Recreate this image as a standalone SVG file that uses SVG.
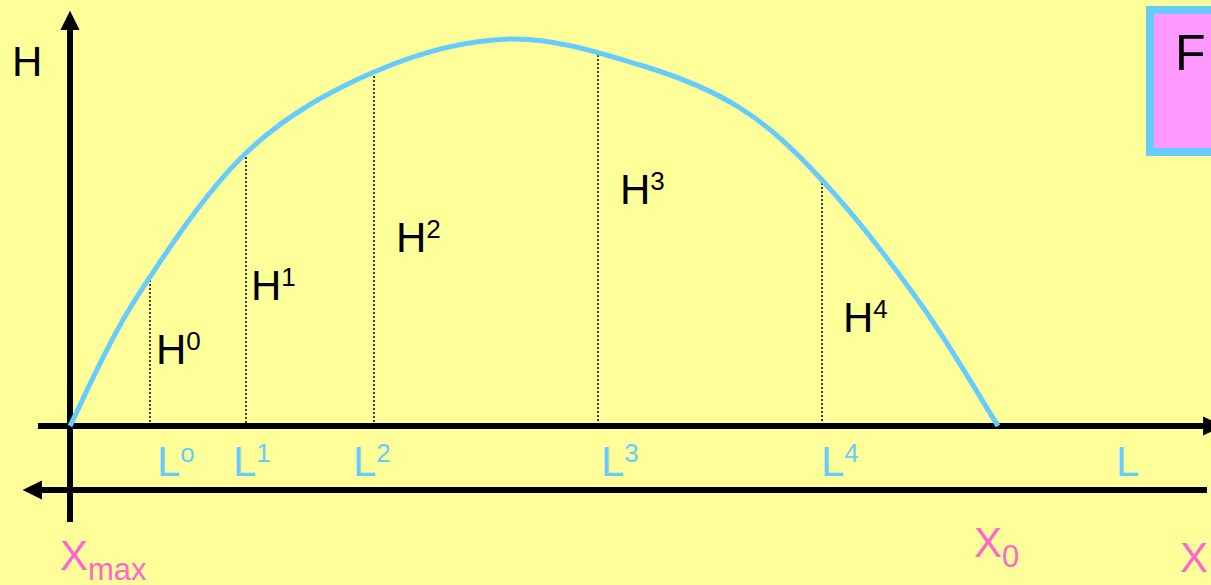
<svg xmlns="http://www.w3.org/2000/svg" width="1211" height="585" viewBox="0 0 1211 585">
<style>
.t{font-family:"Liberation Sans",Arial,sans-serif;}
.blk{fill:#000;font-size:42px;}
.blu{fill:#66CCFF;font-size:42px;}
.pnk{fill:#FF66CC;font-size:42px;}
.sup{font-size:26px;}
.sub{font-size:31px;}
.axis{stroke:#000;stroke-width:6;fill:none;}
.dot{stroke:#000;stroke-width:1.5;stroke-dasharray:2,2;fill:none;}
</style>
<defs>
<marker id="ah" viewBox="0 0 10 10" refX="1" refY="5" markerWidth="3.2" markerHeight="3.2" orient="auto" markerUnits="strokeWidth">
<path d="M0,0 L10,5 L0,10 Z" fill="#000"/>
</marker>
</defs>
<rect x="0" y="0" width="1211" height="585" fill="#FFFF99"/>
<g id="box-F">
<rect x="1150" y="10" width="80" height="142" fill="#FF99FF" stroke="#66CCFF" stroke-width="8"/>
<text class="t blk" x="1175" y="70" style="font-size:50px">F</text>
</g>
<g id="connectors">
<line class="axis" x1="70" y1="522" x2="70" y2="28" marker-end="url(#ah)"/>
<line class="axis" x1="38" y1="426" x2="1205" y2="426" marker-end="url(#ah)"/>
<line class="axis" x1="1207" y1="490" x2="40" y2="490" marker-end="url(#ah)"/>
<line class="dot" x1="150" y1="280" x2="150" y2="426"/>
<line class="dot" x1="246" y1="153" x2="246" y2="426"/>
<line class="dot" x1="374" y1="72" x2="374" y2="426"/>
<line class="dot" x1="598" y1="55" x2="598" y2="426"/>
<line class="dot" x1="822" y1="183" x2="822" y2="426"/>
<path id="curve" d="M70,426 C80.8,405 105.7,345.5 135,300 C164.3,254.5 206.2,191 246,153 C285.8,115 330,91 374,72 C418,53 465.7,40.2 510,39 C554.3,37.8 601.7,53.5 640,65 C678.3,76.5 709.7,88.8 740,108 C770.3,127.2 792,147.5 822,180 C852,212.5 890.7,262 920,303 C949.3,344 985,405.5 998,426" fill="none" stroke="#66CCFF" stroke-width="5"/>
</g>
<g id="label-H"><text class="t blk" x="12" y="76">H</text></g>
<g id="label-H0"><text class="t blk" x="156" y="364">H<tspan class="sup" dy="-14">0</tspan></text></g>
<g id="label-H1"><text class="t blk" x="251" y="300">H<tspan class="sup" dy="-14">1</tspan></text></g>
<g id="label-H2"><text class="t blk" x="396" y="252">H<tspan class="sup" dy="-14">2</tspan></text></g>
<g id="label-H3"><text class="t blk" x="620" y="204">H<tspan class="sup" dy="-14">3</tspan></text></g>
<g id="label-H4"><text class="t blk" x="843" y="332">H<tspan class="sup" dy="-14">4</tspan></text></g>
<g id="label-L0"><text class="t blu" x="157" y="476">L<tspan class="sup" dy="-14">o</tspan></text></g>
<g id="label-L1"><text class="t blu" x="233" y="476">L<tspan class="sup" dy="-14">1</tspan></text></g>
<g id="label-L2"><text class="t blu" x="353" y="476">L<tspan class="sup" dy="-14">2</tspan></text></g>
<g id="label-L3"><text class="t blu" x="601" y="476">L<tspan class="sup" dy="-14">3</tspan></text></g>
<g id="label-L4"><text class="t blu" x="821" y="476">L<tspan class="sup" dy="-14">4</tspan></text></g>
<g id="label-L"><text class="t blu" x="1116" y="476">L</text></g>
<g id="label-Xmax"><text class="t pnk" x="60" y="570">X<tspan class="sub" dy="10">max</tspan></text></g>
<g id="label-X0"><text class="t pnk" x="974" y="557">X<tspan class="sub" dy="10">0</tspan></text></g>
<g id="label-X"><text class="t pnk" x="1180" y="572">X</text></g>
</svg>
